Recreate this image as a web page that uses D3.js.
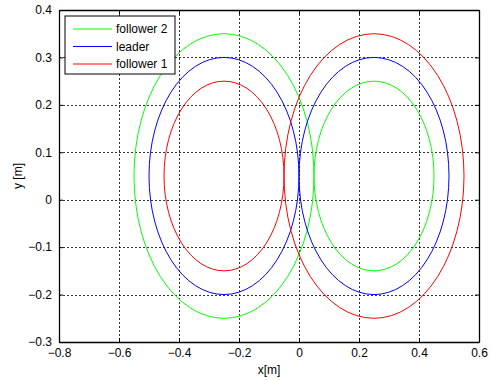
<!DOCTYPE html>
<html>
<head>
<meta charset="utf-8">
<script src="https://cdn.jsdelivr.net/npm/d3@7"></script>
<style>
  body { margin: 0; background: #fff; }
  svg { font-family: "Liberation Sans", Arial, sans-serif; }
  .grid line { stroke: #000; stroke-dasharray: 2,2; stroke-width: 0.8; shape-rendering: crispEdges; }
</style>
</head>
<body>
<div id="chart"></div>
<script>
// series: each trajectory is two loops (left / right), center x, center y, radius in metres
var seriesNames = ["follower 2", "leader", "follower 1"];
var seriesColors = ["#00ff00", "#0000ff", "#ff0000"];
var loopCentersX = [-0.25, 0.25];
var loopCenterY = 0.05;
var leftRadii = [0.30, 0.25, 0.20];
var rightRadii = [0.20, 0.25, 0.30];

var xTicks = [-0.8, -0.6, -0.4, -0.2, 0, 0.2, 0.4, 0.6];
var yTicks = [-0.3, -0.2, -0.1, 0, 0.1, 0.2, 0.3, 0.4];

var width = 491, height = 380;
var margin = {left: 59, top: 10, right: 12, bottom: 38};

var svg = d3.select("#chart")
  .append("svg")
  .attr("width", width)
  .attr("height", height);

var x = d3.scaleLinear().domain([-0.8, 0.6]).range([margin.left, width - margin.right]);
var y = d3.scaleLinear().domain([-0.3, 0.4]).range([height - margin.bottom, margin.top]);

// grid
var grid = svg.append("g").attr("class", "grid");
grid.selectAll(".gx")
  .data(xTicks.slice(1, -1))
  .enter().append("line")
  .attr("x1", d => Math.round(x(d)) + 0.5)
  .attr("x2", d => Math.round(x(d)) + 0.5)
  .attr("y1", y(0.4))
  .attr("y2", y(-0.3));
grid.selectAll(".gy")
  .data(yTicks.slice(1, -1))
  .enter().append("line")
  .attr("y1", d => Math.round(y(d)) + 0.5)
  .attr("y2", d => Math.round(y(d)) + 0.5)
  .attr("x1", x(-0.8))
  .attr("x2", x(0.6));

// trajectories
var loops = [];
seriesNames.forEach(function(name, i) {
  loops.push({cx: loopCentersX[0], r: leftRadii[i], color: seriesColors[i]});
  loops.push({cx: loopCentersX[1], r: rightRadii[i], color: seriesColors[i]});
});

svg.append("g")
  .selectAll("ellipse")
  .data(loops)
  .enter().append("ellipse")
  .attr("cx", d => x(d.cx))
  .attr("cy", y(loopCenterY))
  .attr("rx", d => x(d.r) - x(0))
  .attr("ry", d => y(0) - y(d.r))
  .attr("fill", "none")
  .attr("stroke", d => d.color)
  .attr("stroke-width", 1);

// axes (MATLAB style: inward ticks on all sides)
var fs = "12px";
var xAxis = svg.append("g")
  .attr("transform", "translate(0," + y(-0.3) + ")")
  .call(d3.axisBottom(x).tickValues(xTicks).tickSizeInner(-4).tickSizeOuter(0).tickPadding(6).tickFormat(d3.format("")));
var yAxis = svg.append("g")
  .attr("transform", "translate(" + x(-0.8) + ",0)")
  .call(d3.axisLeft(y).tickValues(yTicks).tickSizeInner(-4).tickSizeOuter(0).tickPadding(7).tickFormat(d3.format("")));
var xTop = svg.append("g")
  .attr("transform", "translate(0," + y(0.4) + ")")
  .call(d3.axisTop(x).tickValues(xTicks).tickSizeInner(-4).tickSizeOuter(0).tickFormat(""));
var yRight = svg.append("g")
  .attr("transform", "translate(" + x(0.6) + ",0)")
  .call(d3.axisRight(y).tickValues(yTicks).tickSizeInner(-4).tickSizeOuter(0).tickFormat(""));

[xAxis, yAxis, xTop, yRight].forEach(function(a) {
  a.selectAll("path").attr("stroke", "#000").attr("stroke-width", 1.3);
  a.selectAll("line").attr("stroke", "#000");
  a.selectAll("text").attr("fill", "#000").style("font-size", fs)
    .style("font-family", "\"Liberation Sans\", Arial, sans-serif");
});

// axis labels
svg.append("text")
  .attr("x", (x(-0.8) + x(0.6)) / 2)
  .attr("y", 374)
  .attr("text-anchor", "middle")
  .style("font-size", fs)
  .text("x[m]");
svg.append("text")
  .attr("transform", "translate(22," + (y(-0.3) + y(0.4)) / 2 + ") rotate(-90)")
  .attr("text-anchor", "middle")
  .style("font-size", fs)
  .text("y [m]");

// legend
var legend = svg.append("g").attr("transform", "translate(65,16)");
legend.append("rect")
  .attr("width", 110)
  .attr("height", 58)
  .attr("fill", "#fff")
  .attr("stroke", "#000")
  .attr("stroke-width", 1);
var items = legend.selectAll(".item")
  .data(seriesNames)
  .enter().append("g")
  .attr("transform", (d, i) => "translate(0," + (13 + i * 17.5) + ")");
items.append("line")
  .attr("x1", 8).attr("x2", 47)
  .attr("stroke", (d, i) => seriesColors[i])
  .attr("stroke-width", 1);
items.append("text")
  .attr("x", 51)
  .attr("dy", "0.35em")
  .style("font-size", "12px")
  .text(d => d);
</script>
</body>
</html>
